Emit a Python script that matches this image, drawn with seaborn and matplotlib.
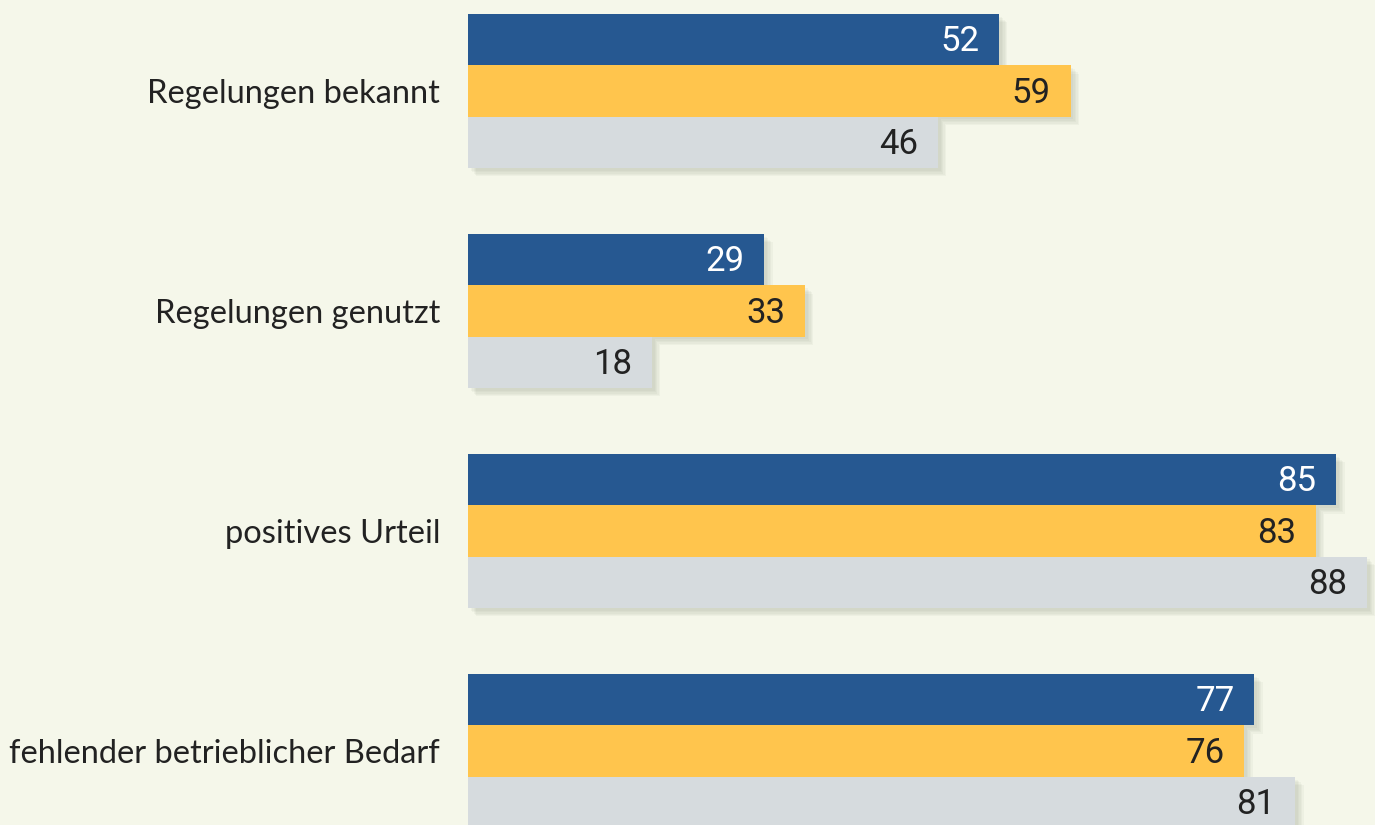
import numpy as np
import pandas as pd
import matplotlib
matplotlib.use("Agg")
import matplotlib.pyplot as plt
import matplotlib.patheffects as pe
import seaborn as sns

# dati
kategorien = ["Regelungen bekannt", "Regelungen genutzt", "positives Urteil",
              "fehlender betrieblicher Bedarf"]
serien = ["Serie 1", "Serie 2", "Serie 3"]
werte_1 = [52, 29, 85, 77]
werte_2 = [59, 33, 83, 76]
werte_3 = [46, 18, 88, 81]

farben = ["#265891", "#FFC54D", "#D6DBDE"]
text_farben = ["white", "#222222", "#222222"]
sfondo = "#F5F7EA"

df = pd.DataFrame({
    "kategorie": kategorien * 3,
    "serie": np.repeat(serien, len(kategorien)),
    "wert": werte_1 + werte_2 + werte_3,
})

sns.set_style("white")
plt.rcParams["font.family"] = ["Lato", "DejaVu Sans"]

fig = plt.figure(figsize=(13.75, 8.25), dpi=100, facecolor=sfondo)
ax = fig.add_axes([468 / 1375, 0, 1 - 468 / 1375, 1])
ax.set_facecolor(sfondo)

sns.barplot(data=df, y="kategorie", x="wert", hue="serie", order=kategorien,
            hue_order=serien, palette=farben, orient="h", width=0.7,
            saturation=1, legend=False, ax=ax)

# ombra morbida a strati
ombra = [pe.SimplePatchShadow(offset=(o, -o), shadow_rgbFace="#8e9480", alpha=0.07)
         for o in (6, 5, 4, 3, 2)]
ombra.append(pe.Normal())

for cont, col in zip(ax.containers, text_farben):
    for bar in cont:
        bar.set_path_effects(ombra)
        bar.set_edgecolor("none")
        ax.annotate(f"{bar.get_width():.0f}",
                    xy=(bar.get_width(), bar.get_y() + bar.get_height() / 2),
                    xytext=(-20, -2), textcoords="offset pixels",
                    ha="right", va="center", fontsize=25, color=col,
                    family=["Roboto", "DejaVu Sans"])

ax.set_xlim(0, 88.8)
ax.set_ylim(3.336, -0.4136)
ax.set_xlabel("")
ax.set_ylabel("")
ax.set_xticks([])
ax.tick_params(axis="y", length=0, pad=20, labelsize=23.5, labelcolor="#222222")
for s in ax.spines.values():
    s.set_visible(False)

fig.savefig("out.png", dpi=100, facecolor=sfondo)
